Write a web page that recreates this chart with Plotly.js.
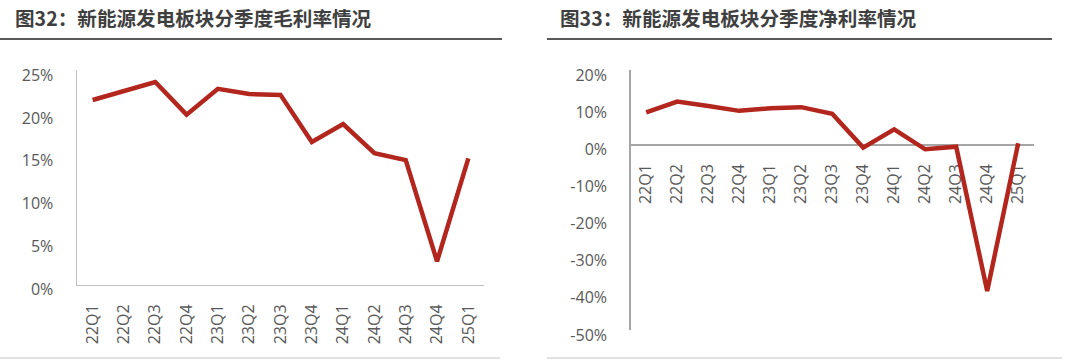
<!DOCTYPE html>
<html>
<head>
<meta charset="utf-8">
<script src="https://cdn.plot.ly/plotly-3.0.1.min.js"></script>
<style>
html,body{margin:0;padding:0;background:#fff;}
#chart{width:1076px;height:360px;}
</style>
</head>
<body>
<div id="chart"></div>
<script>
const quarters = ['22Q1','22Q2','22Q3','22Q4','23Q1','23Q2','23Q3','23Q4','24Q1','24Q2','24Q3','24Q4','25Q1'];
const grossMargin = [21.5, 22.6, 23.6, 19.8, 22.8, 22.2, 22.1, 16.6, 18.7, 15.3, 14.5, 2.7, 14.7];
const netMargin = [8.6, 11.5, 10.3, 9.0, 9.7, 10.0, 8.2, -0.9, 4.0, -1.35, -0.65, -39.5, 0.3];
const leftTitle = '图32：新能源发电板块分季度毛利率情况';
const rightTitle = '图33：新能源发电板块分季度净利率情况';
const leftTicks = [0, 5, 10, 15, 20, 25];
const rightTicks = [20, 10, 0, -10, -20, -30, -40, -50];

const W = 1076, H = 360;
const px = v => v / W;
const py = v => (H - v) / H;

const lineColor = '#b3261e';
const tickFont = {family: '"Open Sans", "Noto Sans", sans-serif', size: 16, color: '#595959'};
const axisGray = '#bfbfbf';

const rYdom = [py(330), py(70)];
const zeroPos = rYdom[0] + (rYdom[1] - rYdom[0]) * 5 / 7;

const traces = [
  {x: quarters, y: grossMargin, type: 'scatter', mode: 'lines', xaxis: 'x', yaxis: 'y',
   line: {color: lineColor, width: 4.5}, hoverinfo: 'skip'},
  {x: quarters, y: netMargin, type: 'scatter', mode: 'lines', xaxis: 'x2', yaxis: 'y2',
   line: {color: lineColor, width: 4.5}, hoverinfo: 'skip'}
];

const layout = {
  width: W, height: H,
  margin: {l: 0, r: 0, t: 0, b: 0},
  paper_bgcolor: '#fff', plot_bgcolor: 'rgba(0,0,0,0)',
  showlegend: false,
  xaxis: {
    domain: [px(77), px(484)], anchor: 'y', type: 'category', range: [-0.5, 12.5],
    showgrid: false, zeroline: false, showline: true, linecolor: axisGray, linewidth: 1.5,
    ticks: '', tickangle: -90, tickfont: tickFont, ticklabelstandoff: 12, fixedrange: true
  },
  yaxis: {
    domain: [py(284.5), py(70)], anchor: 'x', range: [0, 25],
    tickvals: leftTicks, ticktext: leftTicks.map(v => v + '%'),
    showgrid: false, zeroline: false, showline: true, linecolor: axisGray, linewidth: 1.5,
    ticks: '', tickfont: tickFont, ticklabelstandoff: 19, ticklabelshift: 5, fixedrange: true
  },
  xaxis2: {
    domain: [px(630.7), px(1033.7)], anchor: 'free', position: zeroPos, type: 'category', range: [-0.5, 12.5],
    showgrid: false, zeroline: false, showline: true, linecolor: '#a6a6a6', linewidth: 1.5,
    ticks: '', tickangle: -90, tickfont: tickFont, ticklabelstandoff: 12, layer: 'below traces', fixedrange: true
  },
  yaxis2: {
    domain: rYdom, anchor: 'x2', range: [-50, 20],
    tickvals: rightTicks, ticktext: rightTicks.map(v => v + '%'),
    showgrid: false, zeroline: false, showline: true, linecolor: '#a6a6a6', linewidth: 1.5,
    ticks: '', tickfont: tickFont, ticklabelstandoff: 19, ticklabelshift: 5, fixedrange: true
  },
  annotations: [
    {text: leftTitle, xref: 'paper', yref: 'paper', x: px(13), y: py(17), xanchor: 'left', yanchor: 'middle',
     showarrow: false, font: {family: '"Noto Sans CJK SC", sans-serif', size: 19.6, color: '#3f3f3f', weight: 'bold'}},
    {text: rightTitle, xref: 'paper', yref: 'paper', x: px(558), y: py(17), xanchor: 'left', yanchor: 'middle',
     showarrow: false, font: {family: '"Noto Sans CJK SC", sans-serif', size: 19.6, color: '#3f3f3f', weight: 'bold'}}
  ],
  shapes: [
    {type: 'line', xref: 'paper', yref: 'paper', x0: 0, x1: px(502), y0: py(39), y1: py(39), line: {color: '#595959', width: 2}},
    {type: 'line', xref: 'paper', yref: 'paper', x0: px(547), x1: px(1052), y0: py(39), y1: py(39), line: {color: '#595959', width: 2}},
    {type: 'line', xref: 'paper', yref: 'paper', x0: 0, x1: px(500), y0: py(358), y1: py(358), line: {color: '#d9d9d9', width: 1.5}},
    {type: 'line', xref: 'paper', yref: 'paper', x0: px(547), x1: px(1062), y0: py(358), y1: py(358), line: {color: '#d9d9d9', width: 1.5}}
  ]
};

Plotly.newPlot('chart', traces, layout, {staticPlot: true, displayModeBar: false});
</script>
</body>
</html>
